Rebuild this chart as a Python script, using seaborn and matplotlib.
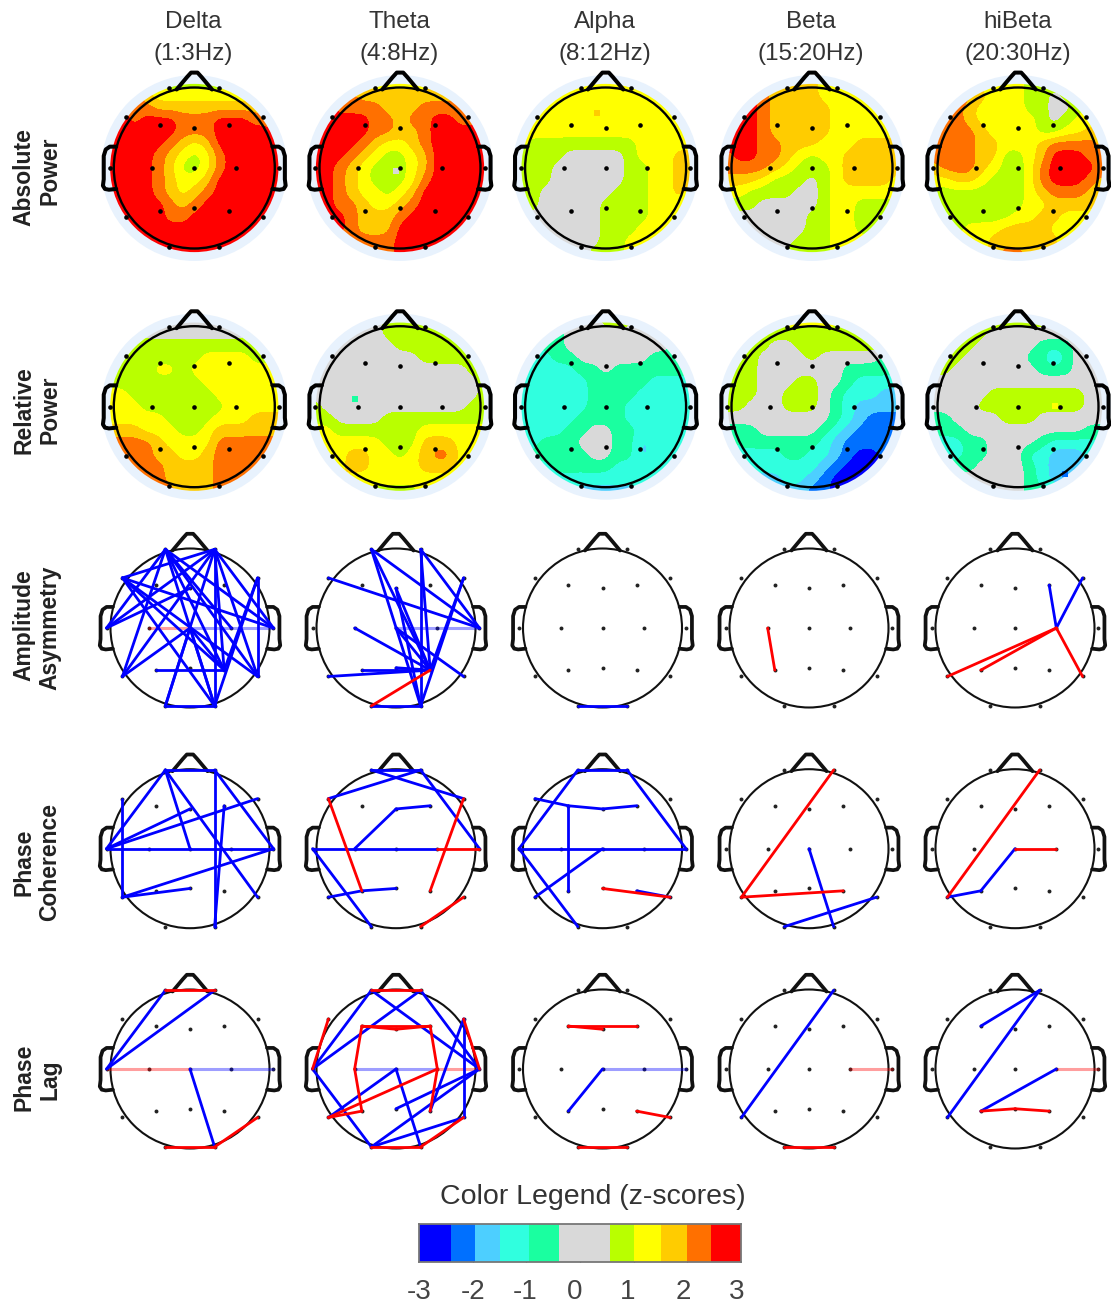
import numpy as np
import matplotlib
matplotlib.use("Agg")
import matplotlib.pyplot as plt
from matplotlib.colors import ListedColormap
from matplotlib.patches import Circle
import seaborn as sns

sns.set_theme(style="white")
plt.rcParams['font.family'] = ['Liberation Sans', 'DejaVu Sans']

# z-score bands, low to high
band_colors = ["#0000ff", "#0070ff", "#4dcfff", "#30ffdf", "#1affa0", "#d9d9d9",
               "#b9ff00", "#ffff00", "#ffcc00", "#ff7000", "#ff0000"]
band_edges = [-3, -2.4, -1.95, -1.5, -0.95, -0.4, 0.55, 1.0, 1.5, 2.0, 2.45, 3]
legend_ticks = [-3, -2, -1, 0, 1, 2, 3]
legend_label_x = [419, 473, 525, 575, 628, 683, 737]

bands = ["Delta", "Theta", "Alpha", "Beta", "hiBeta"]
band_ranges = ["(1:3Hz)", "(4:8Hz)", "(8:12Hz)", "(15:20Hz)", "(20:30Hz)"]

# scalp maps: band index read on a 15x15 grid, top row first (a = 10)
abs_delta = ["777766666667777", "999877777777788", "aa9988888888888", "aa9aaa999aaa998", "aaaaaa999aaaaaa",
             "aaaaa9878aaaaaa", "aaaa987679aaaaa", "aaaa986679aaaaa", "aaaa98778aaaaaa", "aaaa98789aaaaaa",
             "aaaaa989aaaaaaa", "aaaaa99aaaaaaaa", "aaaaaaaaaaaaaaa", "aaaaaaaaaaaaaaa", "aaaaaaaaaaaaaaa"]
abs_theta = ["777777777777777", "999988888888899", "aa9999888999999", "aaaaa99899aa999", "aaaaa99889aaaaa",
             "aaaa987789aaaaa", "aaa9876678aaaaa", "aa98766678aaaaa", "aa98766679aaaaa", "aa9877678aaaaaa",
             "aa9987789aaaaaa", "aaa98889aaaaaaa", "aaa9888aaaaaaaa", "9999999aaaaaaaa", "9999999aaaaaaaa"]
abs_alpha = ["777777777777777", "777777777777777", "777777777777777", "777777777777777", "777777777777777",
             "766666666677777", "666655555677788", "666555555667788", "666555555667788", "665555556667787",
             "665555566667777", "655555566667777", "555555566677777", "555555566777777", "555555666777777"]
abs_beta = ["777888887777777", "aaa988887777788", "aaa988888777777", "aaa988898777777", "aaa988888777777",
            "aaa998887778888", "9aa998767788888", "999987666788888", "888766656788887", "776666556777777",
            "666555556776666", "555555566776667", "555555566776677", "555555666777777", "555556666777777"]
abs_hibeta = ["777777776666666", "aa9987776656666", "a99877776655677", "a99877777656777", "999987777667788",
              "999988777899998", "9999886678aaa99", "8999876679aaaa9", "7788766679aaa98", "666666667899988",
              "666666667788887", "666666677887777", "666777888877777", "667778888887777", "777778998877777"]
rel_delta = ["666555555556777", "666555555555666", "776666666666677", "766666667777666", "666677677777777",
             "666666667777777", "776666666777777", "777666666677777", "777776666777888", "888777667888888",
             "999987777999999", "999988778999999", "999998888999999", "999998888999999", "999999888999999"]
rel_theta = ["555555666666777", "555555666666667", "555555566666666", "555555555666666", "555555555555566",
             "555555555555556", "555555555555556", "655555555555566", "665555666666666", "776666666777777",
             "777777666888777", "777887767899777", "777887777888777", "888777777777788", "777776666777777"]
rel_alpha = ["334455566655444", "444455555555444", "334455555555544", "333445555554444", "333334454444444",
             "333333444443333", "333333444433333", "333333444333333", "333334444333333", "333344554433333",
             "334445554423333", "344444554423333", "333444443333333", "333333333333333", "333332222233333"]
rel_beta = ["777777777766644", "777666666666666", "776655666666666", "776555565555544", "766555555544444",
            "766555665543333", "666556665433322", "665556665432222", "555555555432111", "444555554321111",
            "344444443211111", "233334433210011", "123333332100001", "112223321000000", "111222211000000"]
rel_hibeta = ["666666666665555", "666665555555555", "666655555444555", "666555554424555", "665555555444555",
              "555555555555555", "555556666666655", "555566666666655", "445555666555555", "444555555555544",
              "333445555433334", "333445553322233", "444455554322233", "555555554322233", "555555554433333"]

# one-cell specks on the maps: map, x, y, band
specks = [("abs_theta", -0.05, -0.04, 5), ("abs_alpha", -0.11, 0.68, 8), ("rel_theta", -0.56, 0.09, 4),
          ("rel_hibeta", 0.46, 0.01, 7), ("rel_hibeta", 0.58, -0.83, 1)]

# electrode sites
sites = {"Fp1": (-0.31, 0.99), "Fp2": (0.31, 0.99), "F7": (-0.85, 0.63), "F3": (-0.43, 0.54), "Fz": (0, 0.5),
         "F4": (0.43, 0.54), "F8": (0.85, 0.63), "T3": (-1.05, 0), "C3": (-0.52, 0), "Cz": (0, 0), "C4": (0.52, 0),
         "T4": (1.05, 0), "T5": (-0.85, -0.61), "P3": (-0.43, -0.53), "Pz": (0, -0.5), "P4": (0.43, -0.53),
         "T6": (0.85, -0.61), "O1": (-0.31, -0.98), "O2": (0.31, -0.98)}

# significant links per panel
asym_delta_blue = ["Fp1-T3", "Fp1-T5", "Fp1-O2", "Fp1-T4", "Fp1-T6", "Fp1-P4", "Fp1-C4", "Fp2-T3", "Fp2-F7", "Fp2-T5",
                   "Fp2-O1", "Fp2-O2", "Fp2-T4", "Fp2-T6", "Fp2-P4", "F7-T4", "F7-P4", "F7-O2", "F7-T6", "F8-O2",
                   "F8-P4", "F8-T6", "T3-Fz", "T5-Cz", "Cz-O2", "Cz-O1", "Cz-P4", "P3-P4", "O1-O2"]
asym_delta_red = []
asym_delta_pale = [("Cz-T4", "blue"), ("C3-Cz", "red")]
asym_theta_blue = ["Fp1-O2", "Fp1-P4", "Fp1-T4", "Fp2-O2", "Fp2-T4", "Fp2-P4", "F7-T4", "F8-P4", "F8-O2", "C3-P4",
                   "Fz-P4", "Fz-O2", "Cz-P4", "Cz-T6", "T5-P4", "P3-P4", "Pz-P4", "O1-O2"]
asym_theta_red = ["O1-P4"]
asym_theta_pale = [("Cz-T4", "blue")]
asym_alpha_blue = ["O1-O2"]
asym_beta_red = ["C3-P3"]
asym_hibeta_blue = ["C4-F4", "C4-F8"]
asym_hibeta_red = ["C4-T5", "C4-P3", "C4-T6"]

coh_delta_blue = ["Fp1-Fp2", "Fp1-T3", "Fp1-Cz", "Fp1-T6", "Fp2-O2", "Fp2-T4", "F7-T5", "T3-T4", "T3-Fz", "T3-F8",
                  "T5-T4", "T5-Pz", "F4-O2"]
coh_theta_blue = ["Fp1-F8", "Fp2-F7", "Fp1-Fp2", "Fp2-T4", "C3-Fz", "Fz-F4", "T3-C4", "T3-O1", "T5-P3", "P3-Pz"]
coh_theta_red = ["C4-T4", "F7-P3", "F8-P4", "O2-T6"]
coh_alpha_blue = ["Fp1-Fp2", "Fp1-T3", "Fp2-T4", "F7-F3", "F3-Fz", "Fz-F4", "F3-P3", "T3-T4", "T3-O1", "T5-Cz", "P4-T6"]
coh_alpha_red = ["Pz-T6"]
coh_beta_blue = ["Cz-O2", "O1-T6"]
coh_beta_red = ["Fp2-T5", "T5-P4"]
coh_hibeta_blue = ["T5-P3", "P3-Cz"]
coh_hibeta_red = ["Fp2-T5", "Cz-C4"]

lag_delta_blue = ["Fp1-T3", "Fp2-T3", "Cz-O2"]
lag_delta_red = ["Fp1-Fp2", "O1-O2", "O2-T6"]
lag_delta_pale = [("T3-Cz", "red"), ("Cz-T4", "blue")]
lag_theta_blue = ["Fp1-T3", "Fp1-T4", "Fp2-T3", "Fp2-T4", "T5-Cz", "T3-O1", "Cz-O2", "F8-T6", "F8-P4", "Pz-T4", "O1-T4",
                  "O1-T6"]
lag_theta_red = ["Fp1-Fp2", "F7-T3", "F8-T4", "F3-Fz", "Fz-F4", "F3-F4", "F3-C3", "F4-C4", "C3-P3", "C4-P4", "P3-T5",
                 "T5-C4", "O1-O2", "O2-T6"]
lag_theta_pale = [("C3-C4", "blue"), ("C4-T4", "red")]
lag_alpha_blue = ["P3-Cz"]
lag_alpha_red = ["F3-Fz", "F3-F4", "P4-T6", "O1-O2"]
lag_alpha_pale = [("Cz-T4", "blue")]
lag_beta_blue = ["Fp2-T5"]
lag_beta_red = ["O1-O2"]
lag_beta_pale = [("C4-T4", "red")]
lag_hibeta_blue = ["Fp2-F3", "Fp2-T5", "P3-C4"]
lag_hibeta_red = ["P3-Pz", "Pz-P4"]
lag_hibeta_pale = [("C4-T4", "red")]

W, H = 1111, 1308
heat_x = [194.3, 400, 605.6, 812, 1018]
link_x = [190, 396, 602.5, 809, 1015]
BLUE, RED = "#0000ff", "#ff0000"
nose_x = [-0.22, -0.09, -0.04, 0.04, 0.09, 0.22]
nose_y = [0.975, 1.13, 1.185, 1.185, 1.13, 0.975]
ear_x = [0.97, 1.05, 1.1, 1.125, 1.125, 1.135, 1.11, 1.06, 0.97]
ear_y = [0.265, 0.265, 0.23, 0.15, -0.14, -0.22, -0.26, -0.27, -0.26]
band_cmap = ListedColormap(band_colors)


def head_axes(fig, cx, cy, r):
    half = 1.25 * r
    ax = fig.add_axes([(cx - half) / W, 1 - (cy + half) / H, 2 * half / W, 2 * half / H])
    ax.set_xlim(-1.25, 1.25)
    ax.set_ylim(-1.25, 1.25)
    ax.axis("off")
    return ax


def draw_outline(ax, lw_head, lw_parts, color):
    ax.add_patch(Circle((0, 0), 1, fill=False, ec=color, lw=lw_head, zorder=4))
    ax.plot(nose_x, nose_y, color=color, lw=lw_parts, solid_joinstyle="round", solid_capstyle="round", zorder=4)
    for side in (-1, 1):
        ax.plot(side * np.array(ear_x), ear_y, color=color, lw=lw_parts, solid_joinstyle="round", zorder=4)


def draw_sites(ax, size, color):
    xy = np.array(list(sites.values()))
    sns.scatterplot(x=xy[:, 0], y=xy[:, 1], color=color, s=size, linewidth=0, legend=False, ax=ax, zorder=3)


def draw_map(ax, rows, name):
    z = np.array([[int(c, 16) for c in row] for row in rows], dtype=float)
    ax.add_patch(Circle((0, 0), 1.155, fc="#e8f2fd", ec="none", zorder=0))
    im = ax.imshow(z, extent=(-1.125, 1.125, -1.125, 1.125), origin="upper", aspect="auto", cmap=band_cmap,
                   vmin=-0.5, vmax=10.5, interpolation="bicubic", interpolation_stage="data", zorder=1)
    im.set_clip_path(Circle((0, 0), 1.045, transform=ax.transData))
    ax.set_xlim(-1.25, 1.25)
    ax.set_ylim(-1.25, 1.25)
    for sp_name, x, y, b in specks:
        if sp_name == name:
            sns.scatterplot(x=[x], y=[y], color=band_colors[b], marker="s", s=14, linewidth=0, legend=False,
                            ax=ax, zorder=2)
    draw_sites(ax, 11, "black")
    draw_outline(ax, 1.7, 2.9, "black")


def draw_link(ax, link, color, lw=2.0, alpha=1.0):
    a, b = link.split("-")
    xs = [sites[a][0], sites[b][0]]
    ys = [sites[a][1], sites[b][1]]
    sns.lineplot(x=xs, y=ys, color=color, lw=lw, alpha=alpha, estimator=None, sort=False, legend=False, ax=ax, zorder=5)


def draw_links(ax, blue=(), red=(), pale=()):
    draw_sites(ax, 8, "#222222")
    draw_outline(ax, 1.5, 2.7, "#111111")
    for link, name in pale:
        draw_link(ax, link, BLUE if name == "blue" else RED, lw=2.2, alpha=0.38)
    for link in blue:
        draw_link(ax, link, BLUE)
    for link in red:
        draw_link(ax, link, RED)


fig = plt.figure(figsize=(W / 100, H / 100), dpi=100)

# top two rows: scalp maps
abs_maps = [("abs_delta", abs_delta), ("abs_theta", abs_theta), ("abs_alpha", abs_alpha), ("abs_beta", abs_beta),
            ("abs_hibeta", abs_hibeta)]
rel_maps = [("rel_delta", rel_delta), ("rel_theta", rel_theta), ("rel_alpha", rel_alpha), ("rel_beta", rel_beta),
            ("rel_hibeta", rel_hibeta)]
for cx, (name, rows) in zip(heat_x, abs_maps):
    draw_map(head_axes(fig, cx, 168, 80.5), rows, name)
for cx, (name, rows) in zip(heat_x, rel_maps):
    draw_map(head_axes(fig, cx, 406.7, 80.5), rows, name)

# lower three rows: links
asym_links = [dict(blue=asym_delta_blue, red=asym_delta_red, pale=asym_delta_pale),
              dict(blue=asym_theta_blue, red=asym_theta_red, pale=asym_theta_pale),
              dict(blue=asym_alpha_blue), dict(red=asym_beta_red),
              dict(blue=asym_hibeta_blue, red=asym_hibeta_red)]
coh_links = [dict(blue=coh_delta_blue), dict(blue=coh_theta_blue, red=coh_theta_red),
             dict(blue=coh_alpha_blue, red=coh_alpha_red), dict(blue=coh_beta_blue, red=coh_beta_red),
             dict(blue=coh_hibeta_blue, red=coh_hibeta_red)]
lag_links = [dict(blue=lag_delta_blue, red=lag_delta_red, pale=lag_delta_pale),
             dict(blue=lag_theta_blue, red=lag_theta_red, pale=lag_theta_pale),
             dict(blue=lag_alpha_blue, red=lag_alpha_red, pale=lag_alpha_pale),
             dict(blue=lag_beta_blue, red=lag_beta_red, pale=lag_beta_pale),
             dict(blue=lag_hibeta_blue, red=lag_hibeta_red, pale=lag_hibeta_pale)]
for cy, row in zip([628, 848.7, 1069], [asym_links, coh_links, lag_links]):
    for cx, links in zip(link_x, row):
        draw_links(head_axes(fig, cx, cy, 79.5), **links)

# column titles
for cx, band, hz in zip([193, 399, 605, 811, 1018], bands, band_ranges):
    fig.text(cx / W, 1 - 22 / H, band, ha="center", va="center", fontsize=17.5, color="#333333")
    fig.text(cx / W, 1 - 54 / H, hz, ha="center", va="center", fontsize=17.5, color="#333333")

# row titles
row_titles = [(24, 177, "Absolute"), (50, 171, "Power"), (24, 410, "Relative"), (50, 410, "Power"),
              (24, 625, "Amplitude"), (50, 628, "Asymmetry"), (24, 862, "Phase"), (50, 862, "Coherence"),
              (24, 1077, "Phase"), (50, 1080, "Lag")]
for x, y, label in row_titles:
    fig.text(x / W, 1 - y / H, label, rotation=90, ha="center", va="center", fontsize=16.5, fontweight="bold",
             color="#222222")

# colour legend
cells = np.arange(-3, 3, 0.05) + 0.025
legend_row = np.searchsorted(band_edges[1:-1], cells)[None, :]
cax = fig.add_axes([419 / W, 1 - 1262 / H, 322 / W, 38 / H])
sns.heatmap(legend_row, cmap=band_cmap, vmin=-0.5, vmax=10.5, cbar=False, xticklabels=False,
            yticklabels=False, ax=cax)
for spine in cax.spines.values():
    spine.set_visible(True)
    spine.set_color("#777777")
    spine.set_linewidth(1.3)
cax.set_xticks([(t + 3) / 0.05 for t in legend_ticks[1:-1]])
cax.set_xticklabels([])
cax.tick_params(axis="x", direction="in", length=2.5, width=0.8, color="#222222", bottom=True)
for x, t in zip(legend_label_x, legend_ticks):
    fig.text(x / W, 1 - 1292 / H, str(t), ha="center", va="center", fontsize=20, color="#444444")
fig.text(593 / W, 1 - 1197 / H, "Color Legend (z-scores)", ha="center", va="center", fontsize=20.5, color="#333333")

fig.savefig("out.png", dpi=100)
